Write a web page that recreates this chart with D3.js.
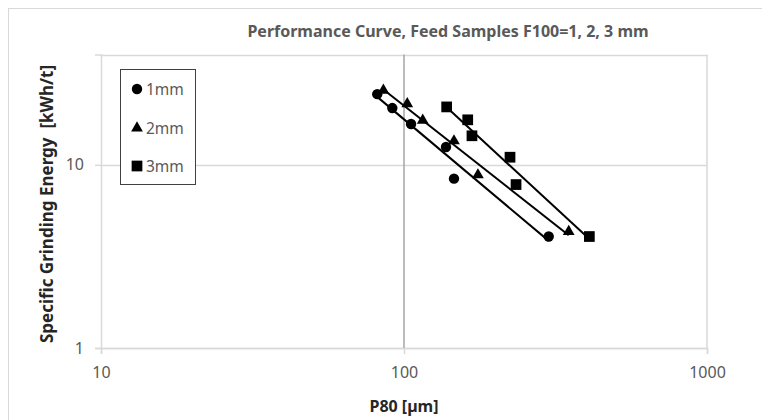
<!DOCTYPE html>
<html lang="en">
<head>
	<meta charset="UTF-8"/>
	<title>Performance Curve</title>
	<script src="https://d3js.org/d3.v7.min.js"></script>
	<style>
	body { margin: 0; background: #fff; }
	text { font-family: "Noto Sans", "Open Sans", sans-serif; }
	</style>
</head>
<body>
	<div id="chart"></div>
	<script>

	// P80 [um] and specific energy [kWh/t] per feed sample
	var p80_1mm = [81.6, 91.5, 105.5, 137.6, 146.2, 300.3];
	var sge_1mm = [24.3, 20.4, 16.7, 12.5, 8.4, 4.06];

	var p80_2mm = [85.5, 102.5, 115.3, 146.2, 175.4, 349.6];
	var sge_2mm = [25.5, 21.5, 17.5, 13.5, 8.8, 4.32];

	var p80_3mm = [138.3, 162.3, 167.6, 223.8, 234.3, 409];
	var sge_3mm = [20.7, 17.6, 14.4, 11.0, 7.8, 4.06];

	var seriesNames = ["1mm", "2mm", "3mm"];
	var xTicks = [10, 100, 1000];
	var yTicks = [1, 10];

	var w = 762;
	var h = 420;

	var series = [
		{name: seriesNames[0], x: p80_1mm, y: sge_1mm, shape: d3.symbolCircle},
		{name: seriesNames[1], x: p80_2mm, y: sge_2mm, shape: d3.symbolTriangle},
		{name: seriesNames[2], x: p80_3mm, y: sge_3mm, shape: d3.symbolSquare}
	];

	var xScale = d3.scaleLog().domain([10, 1000]).range([101, 707]);
	var yScale = d3.scaleLog().domain([1, 40]).range([348, 54.5]);

	var svg = d3.select("#chart")
		.append("svg")
		.attr("width", w)
		.attr("height", h);

	// chart border
	svg.append("rect")
		.attr("x", 8.5).attr("y", 8.5)
		.attr("width", 800).attr("height", 430)
		.attr("fill", "white")
		.attr("stroke", "#d9d9d9");

	// gridlines
	svg.selectAll(".hgrid")
		.data(yTicks.concat([40]))
		.enter()
		.append("line")
		.attr("x1", xScale(10)).attr("x2", xScale(1000))
		.attr("y1", function(d) { return Math.round(yScale(d)) + 0.5; })
		.attr("y2", function(d) { return Math.round(yScale(d)) + 0.5; })
		.attr("stroke", "#d9d9d9")
		.attr("stroke-width", 1.5);

	svg.selectAll(".vgrid")
		.data([1000])
		.enter()
		.append("line")
		.attr("x1", function(d) { return xScale(d); })
		.attr("x2", function(d) { return xScale(d); })
		.attr("y1", yScale(40)).attr("y2", yScale(1))
		.attr("stroke", "#d9d9d9")
		.attr("stroke-width", 1.5);

	// y axis line at left, with outward ticks
	var yAxis = d3.axisLeft(yScale)
		.tickValues(yTicks)
		.tickFormat(d3.format("d"))
		.tickSize(6)
		.tickPadding(11);

	var gy = svg.append("g")
		.attr("transform", "translate(" + xScale(10) + ",0)")
		.call(yAxis);
	gy.select(".domain").attr("stroke", "#d9d9d9").attr("stroke-width", 1.5);
	gy.selectAll(".tick line").attr("stroke", "#d9d9d9").attr("stroke-width", 1.5);
	gy.selectAll(".tick text")
		.attr("fill", "#595959")
		.attr("font-size", "16px")
		.attr("font-family", "Noto Sans");

	// x axis
	var xAxis = d3.axisBottom(xScale)
		.tickValues(xTicks)
		.tickFormat(d3.format("d"))
		.tickSize(6)
		.tickPadding(13);

	var gx = svg.append("g")
		.attr("transform", "translate(0," + yScale(1) + ")")
		.call(xAxis);
	gx.select(".domain").attr("stroke", "#d9d9d9").attr("stroke-width", 1.5);
	gx.selectAll(".tick line").attr("stroke", "#d9d9d9").attr("stroke-width", 1.5);
	gx.selectAll(".tick text")
		.attr("fill", "#595959")
		.attr("font-size", "16px")
		.attr("font-family", "Noto Sans");

	// vertical axis crossing at 100
	svg.append("line")
		.attr("x1", xScale(100)).attr("x2", xScale(100))
		.attr("y1", yScale(40)).attr("y2", yScale(1))
		.attr("stroke", "#a6a6a6")
		.attr("stroke-width", 1.5);

	// power trendlines (least squares in log-log space)
	series.forEach(function(s) {
		var lx = s.x.map(Math.log10), ly = s.y.map(Math.log10);
		var mx = d3.mean(lx), my = d3.mean(ly);
		var b = d3.sum(lx, function(v, i) { return (v - mx) * (ly[i] - my); }) /
			d3.sum(lx, function(v) { return (v - mx) * (v - mx); });
		var a = my - b * mx;
		var ends = d3.extent(s.x);
		var pts = ends.map(function(x) { return [x, Math.pow(10, a + b * Math.log10(x))]; });
		svg.append("path")
			.datum(pts)
			.attr("fill", "none")
			.attr("stroke", "black")
			.attr("stroke-width", 2)
			.attr("d", d3.line()
				.x(function(d) { return xScale(d[0]); })
				.y(function(d) { return yScale(d[1]); }));
	});

	// markers
	var sizes = [85, 60, 115];
	series.forEach(function(s, k) {
		svg.selectAll(".m" + k)
			.data(s.x)
			.enter()
			.append("path")
			.attr("transform", function(d, i) {
				return "translate(" + xScale(d) + "," + yScale(s.y[i]) + ")";
			})
			.attr("d", d3.symbol().type(s.shape).size(sizes[k]))
			.attr("fill", "black");
	});

	// legend
	svg.append("rect")
		.attr("x", 120.5).attr("y", 69.5)
		.attr("width", 75).attr("height", 115)
		.attr("fill", "white")
		.attr("stroke", "#404040");

	var legendY = [89, 128, 166];
	series.forEach(function(s, k) {
		svg.append("path")
			.attr("transform", "translate(137," + legendY[k] + ")")
			.attr("d", d3.symbol().type(s.shape).size(sizes[k]))
			.attr("fill", "black");
		svg.append("text")
			.attr("x", 146)
			.attr("y", legendY[k] + 5.5)
			.attr("font-size", "15.5px")
			.attr("fill", "#595959")
			.text(s.name);
	});

	// titles
	svg.append("text")
		.attr("x", 448)
		.attr("y", 37)
		.attr("text-anchor", "middle")
		.attr("font-size", "16px")
		.attr("font-weight", "bold")
		.attr("fill", "#595959")
		.text("Performance Curve, Feed Samples F100=1, 2, 3 mm");

	svg.append("text")
		.attr("x", 404)
		.attr("y", 412)
		.attr("text-anchor", "middle")
		.attr("font-size", "16px")
		.attr("font-weight", "bold")
		.attr("fill", "#262626")
		.text("P80 [\u00b5m]");

	svg.append("text")
		.attr("transform", "translate(53,204) rotate(-90)")
		.attr("text-anchor", "middle")
		.attr("font-size", "17px")
		.attr("font-weight", "bold")
		.attr("fill", "#262626")
		.attr("xml:space", "preserve")
		.text("Specific Grinding Energy  [kWh/t]");

	</script>
</body>
</html>
